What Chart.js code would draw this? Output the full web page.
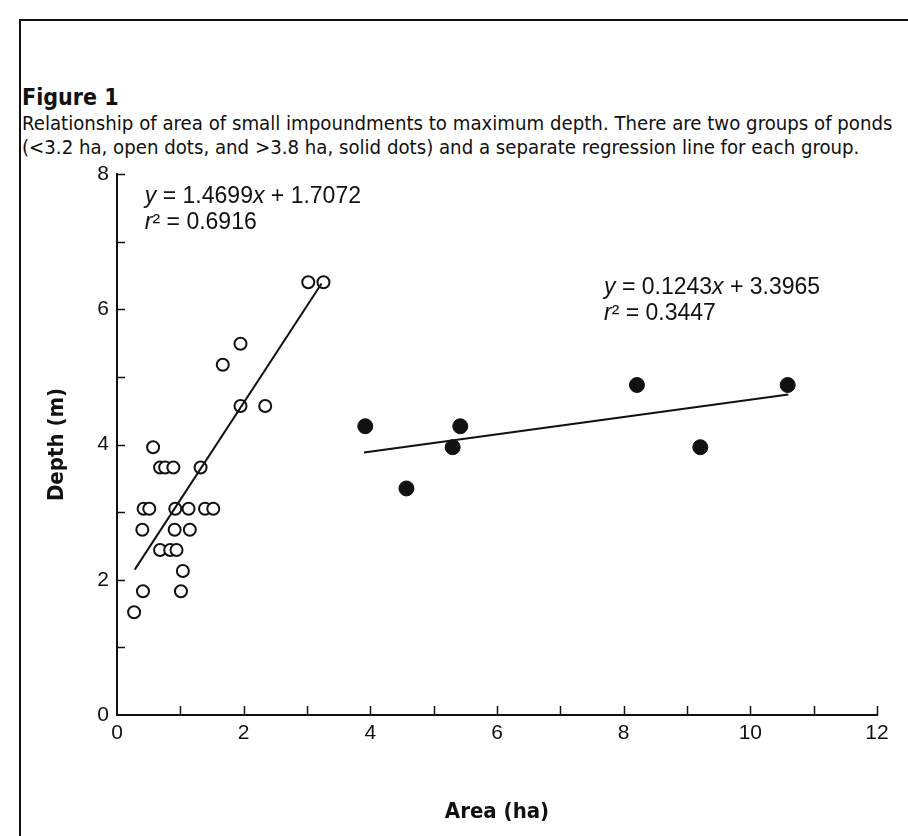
<!DOCTYPE html>
<html>
<head>
<meta charset="utf-8">
<script src="https://cdn.jsdelivr.net/npm/chart.js@4.4.1/dist/chart.umd.min.js"></script>
<style>
  html, body { margin: 0; padding: 0; background: #fff; }
  #wrap { position: relative; width: 908px; height: 836px; overflow: hidden; }
  #frame { position: absolute; left: 19px; top: 19px; width: 900px; height: 830px;
           border-left: 2px solid #111; border-top: 2px solid #111; }
  .cap { position: absolute; left: 22px; white-space: nowrap; color: #111;
         font-family: "Liberation Sans Narrow", "DejaVu Sans Condensed", sans-serif; font-stretch: condensed; }
  #fig { top: 84px; font-size: 23px; font-weight: bold; }
  #l1 { top: 111px; font-size: 20.2px; }
  #l2 { top: 135px; font-size: 20.2px; }
  canvas { position: absolute; left: 0; top: 0; }
</style>
</head>
<body>
<div id="wrap">
  <div id="frame"></div>
  <div class="cap" id="fig">Figure 1</div>
  <div class="cap" id="l1">Relationship of area of small impoundments to maximum depth. There are two groups of ponds</div>
  <div class="cap" id="l2">(&lt;3.2 ha, open dots, and &gt;3.8 ha, solid dots) and a separate regression line for each group.</div>
  <canvas id="chart" width="908" height="836"></canvas>
</div>
<script>
// ponds < 3.2 ha (open dots)
const openArea  = [0.27, 0.40, 0.41, 0.42, 0.51, 0.57, 0.68, 0.68, 0.76, 0.84, 0.89, 0.91, 0.92, 0.94,
                   1.01, 1.04, 1.13, 1.15, 1.32, 1.39, 1.52, 1.67, 1.95, 1.95, 2.34, 3.02, 3.26];
const openDepth = [1.52, 2.74, 1.83, 3.05, 3.05, 3.96, 2.44, 3.66, 3.66, 2.44, 3.66, 2.74, 3.05, 2.44,
                   1.83, 2.13, 3.05, 2.74, 3.66, 3.05, 3.05, 5.18, 4.57, 5.49, 4.57, 6.40, 6.40];
// ponds > 3.8 ha (solid dots)
const solidArea  = [3.92, 4.57, 5.30, 5.42, 8.21, 9.21, 10.59];
const solidDepth = [4.27, 3.35, 3.96, 4.27, 4.88, 3.96, 4.88];

// regression line ends
const openFitArea  = [0.28, 3.23];
const openFitDepth = [2.15, 6.38];
const solidFitArea  = [3.90, 10.60];
const solidFitDepth = [3.88, 4.74];

const xTicks = [0, 2, 4, 6, 8, 10, 12];
const yTicks = [0, 2, 4, 6, 8];

const openEq  = [[['y', true], [' = 1.4699', false], ['x', true], [' + 1.7072', false]],
                 [['r', true], ['\u00b2 = 0.6916', false]]];
const solidEq = [[['y', true], [' = 0.1243', false], ['x', true], [' + 3.3965', false]],
                 [['r', true], ['\u00b2 = 0.3447', false]]];

const pts = (xs, ys) => xs.map((v, i) => ({ x: v, y: ys[i] }));

const INK = '#111';
const FONT = '"Liberation Sans", Arial, sans-serif';
const NARROW = '"Liberation Sans Narrow", "DejaVu Sans Condensed", sans-serif';

const drawRuns = (ctx, runs, x, y) => {
    let cx = x;
    runs.forEach(([t, it]) => {
        ctx.font = (it ? 'italic ' : '') + '23px ' + FONT;
        ctx.fillText(t, cx, y);
        cx += ctx.measureText(t).width;
    });
};

const extras = {
    id: 'extras',
    afterDatasetsDraw(chart) {
        const ctx = chart.ctx;
        const { x, y } = chart.scales;
        const area = chart.chartArea;
        ctx.save();
        ctx.strokeStyle = INK;
        ctx.lineWidth = 1.5;
        // inward tick marks every unit
        for (let v = x.min + 1; v <= x.max; v++) {
            const px = Math.round(x.getPixelForValue(v)) + 0.5;
            ctx.beginPath();
            ctx.moveTo(px, area.bottom);
            ctx.lineTo(px, area.bottom - 9);
            ctx.stroke();
        }
        for (let v = y.min + 1; v <= y.max; v++) {
            const py = Math.round(y.getPixelForValue(v)) + 0.5;
            ctx.beginPath();
            ctx.moveTo(area.left, py);
            ctx.lineTo(area.left + 8, py);
            ctx.stroke();
        }
        // regression equations
        ctx.fillStyle = INK;
        ctx.textBaseline = 'middle';
        ctx.textAlign = 'left';
        let ex = x.getPixelForValue(0.44), ey = y.getPixelForValue(7.66);
        drawRuns(ctx, openEq[0], ex, ey);
        drawRuns(ctx, openEq[1], ex, ey + 26);
        ex = x.getPixelForValue(7.69); ey = y.getPixelForValue(6.32);
        drawRuns(ctx, solidEq[0], ex, ey);
        drawRuns(ctx, solidEq[1], ex, ey + 26);
        ctx.restore();
    }
};

new Chart(document.getElementById('chart').getContext('2d'), {
    type: 'scatter',
    data: {
        datasets: [
            { data: pts(openFitArea, openFitDepth), showLine: true, borderColor: INK, borderWidth: 2, pointRadius: 0 },
            { data: pts(solidFitArea, solidFitDepth), showLine: true, borderColor: INK, borderWidth: 2, pointRadius: 0 },
            { data: pts(openArea, openDepth), pointRadius: 6, pointBorderWidth: 2,
              pointBackgroundColor: '#fff', pointBorderColor: INK },
            { data: pts(solidArea, solidDepth), pointRadius: 7.5, pointBorderWidth: 1,
              pointBackgroundColor: INK, pointBorderColor: INK }
        ]
    },
    options: {
        responsive: false,
        animation: false,
        devicePixelRatio: 1,
        layout: { padding: { left: 0, right: 31, top: 174, bottom: 0 } },
        plugins: { legend: { display: false }, tooltip: { enabled: false } },
        scales: {
            x: {
                min: 0, max: 12,
                afterBuildTicks: s => { s.ticks = xTicks.map(v => ({ value: v })); },
                afterFit: s => { s.height = 121; },
                grid: { display: false, drawTicks: false },
                border: { display: true, color: INK, width: 2 },
                ticks: { color: INK, padding: 6, font: { family: FONT, size: 21 } },
                title: { display: true, text: 'Area (ha)', color: INK, padding: { top: 0, bottom: 11 },
                         font: { family: NARROW, size: 22, weight: 'bold' } }
            },
            y: {
                min: 0, max: 8,
                afterBuildTicks: s => { s.ticks = yTicks.map(v => ({ value: v })); },
                afterFit: s => { s.width = 117; },
                grid: { display: false, drawTicks: false },
                border: { display: true, color: INK, width: 2 },
                ticks: { color: INK, padding: 8, font: { family: FONT, size: 21 } },
                title: { display: true, text: 'Depth (m)', color: INK, padding: { top: 44, bottom: 0 },
                         font: { family: NARROW, size: 22, weight: 'bold' } }
            }
        }
    },
    plugins: [extras]
});
</script>
</body>
</html>
